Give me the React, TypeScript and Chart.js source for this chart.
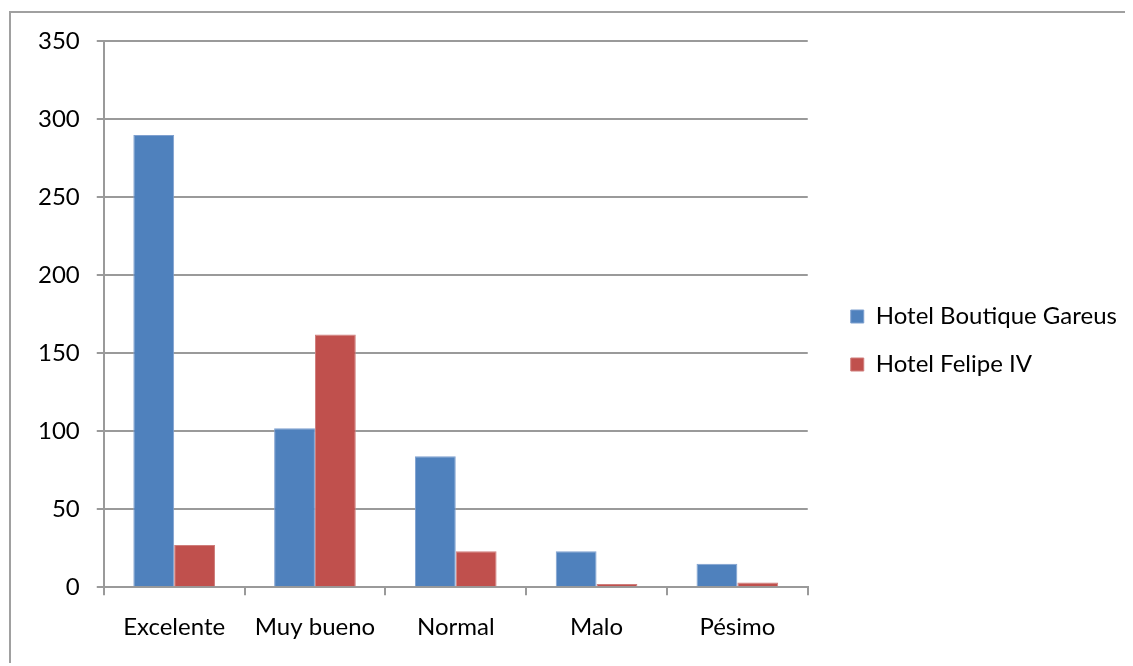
import React, { useEffect, useRef } from "react";
import { Chart, registerables } from "chart.js";

Chart.register(...registerables);

const categories = ["Excelente", "Muy bueno", "Normal", "Malo", "Pésimo"];
const seriesNames = ["Hotel Boutique Gareus", "Hotel Felipe IV"];
const gareusValues = [290, 102, 84, 23, 15];
const felipeValues = [27, 162, 23, 2, 3];
const yTicks = [0, 50, 100, 150, 200, 250, 300, 350];

const FONT = "Lato, 'Open Sans', sans-serif";
const FS = 24;
const GRID = "#9a9a9a";
const LEGEND_SHIFT_X = 19;

const shiftLegend = {
  id: "shiftLegend",
  afterLayout(chart: any) {
    const lg = chart.legend;
    if (lg) {
      lg.left += LEGEND_SHIFT_X;
      lg.right = chart.width;
    }
  },
};

export default function App() {
  const ref = useRef<HTMLCanvasElement | null>(null);

  useEffect(() => {
    document.body.style.overflow = "hidden";
    if (!ref.current) return;
    const chart = new Chart(ref.current, {
      type: "bar",
      plugins: [shiftLegend],
      data: {
        labels: categories,
        datasets: [
          {
            label: seriesNames[0],
            data: gareusValues,
            backgroundColor: "#4F81BD",
            borderColor: "#7fa0cf",
            borderWidth: 1,
            categoryPercentage: 0.58,
            barPercentage: 1,
          },
          {
            label: seriesNames[1],
            data: felipeValues,
            backgroundColor: "#C0504D",
            borderColor: "#cf7d7b",
            borderWidth: 1,
            categoryPercentage: 0.58,
            barPercentage: 1,
          },
        ],
      },
      options: {
        animation: false,
        responsive: true,
        maintainAspectRatio: false,
        layout: { padding: { top: 11, left: 10, right: 63, bottom: 3 } },
        plugins: {
          tooltip: { enabled: false },
          legend: {
            position: "right",
            align: "center",
            labels: {
              font: { family: FONT, size: FS },
              color: "#000",
              boxWidth: 13,
              boxHeight: 13,
              padding: 24,
            },
          },
        },
        scales: {
          x: {
            offset: true,
            grid: {
              offset: true,
              drawOnChartArea: false,
              drawTicks: true,
              tickLength: 8,
              color: GRID,
              lineWidth: 2,
            },
            border: { display: true, color: GRID, width: 2 },
            ticks: {
              font: { family: FONT, size: FS },
              color: "#000",
              padding: 18,
            },
          },
          y: {
            min: 0,
            max: 350,
            afterBuildTicks: (axis: any) => {
              axis.ticks = yTicks.map((v) => ({ value: v }));
            },
            grid: {
              color: GRID,
              lineWidth: 2,
              drawTicks: true,
              tickLength: 7,
            },
            border: { display: true, color: GRID, width: 2 },
            ticks: {
              font: { family: FONT, size: FS },
              color: "#000",
              padding: 17,
            },
          },
        },
      },
    });
    return () => chart.destroy();
  }, []);

  return (
    <div
      style={{
        marginTop: 3,
        marginLeft: 1,
        width: 1122,
        height: 650,
        borderTop: "2px solid #a0a0a0",
        borderLeft: "2px solid #a0a0a0",
        position: "relative",
        background: "#fff",
      }}
    >
      <div style={{ position: "absolute", left: 0, top: -3, width: 1122, height: 653 }}>
        <canvas ref={ref} />
      </div>
    </div>
  );
}
